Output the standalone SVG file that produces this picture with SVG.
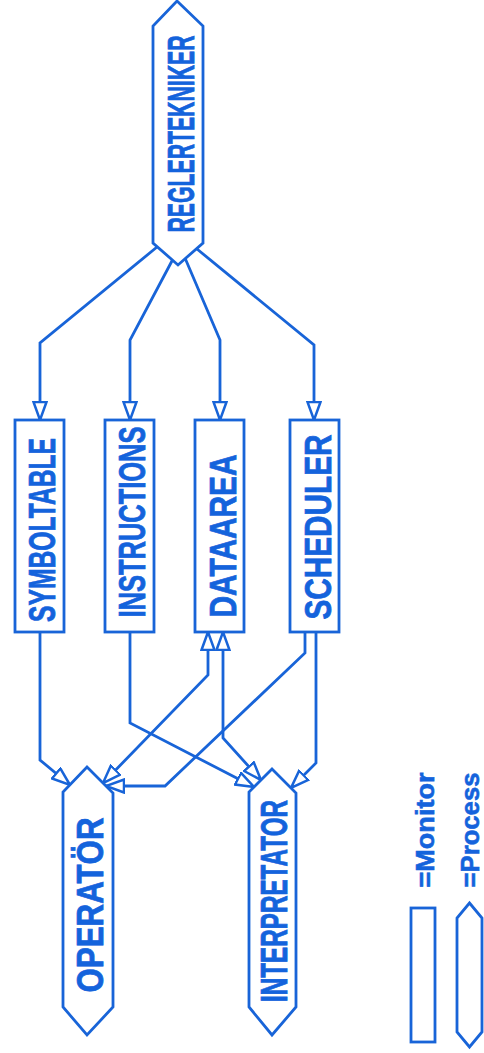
<svg xmlns="http://www.w3.org/2000/svg" width="484" height="1053" viewBox="0 0 484 1053">
<style>
.shape{fill:#fff;stroke:#1864d8;stroke-width:2.8;stroke-linejoin:miter}
.con{fill:none;stroke:#1864d8;stroke-width:2.8;stroke-linejoin:miter}
.lbl{font-family:"Liberation Sans",Arial,sans-serif;font-weight:bold;font-size:37px;fill:#1463dc;stroke:#1463dc;stroke-width:0.8;text-anchor:middle}
.leg{font-family:"Liberation Sans",Arial,sans-serif;font-weight:bold;font-size:26px;fill:#1463dc;stroke:#1463dc;stroke-width:0.6;text-anchor:middle}
</style>
<defs>
<marker id="arr" viewBox="0 -8 21 16" refX="19" refY="0" markerWidth="21" markerHeight="16" markerUnits="userSpaceOnUse" orient="auto-start-reverse">
<path d="M1,-6.5 L19,0 L1,6.5 Z" fill="#fff" stroke="#1864d8" stroke-width="2.5" stroke-linejoin="miter"/>
</marker>
</defs>
<rect width="484" height="1053" fill="#fff"/>
<g id="connectors">
<path class="con" d="M157,247 L40,343 L40,420" marker-end="url(#arr)"/>
<path class="con" d="M173,259 L130,340 L130,420" marker-end="url(#arr)"/>
<path class="con" d="M185,258 L220,340 L220,420" marker-end="url(#arr)"/>
<path class="con" d="M197,249 L314,345 L314,420" marker-end="url(#arr)"/>
<path class="con" d="M40,632 L40,760 L70,785" marker-end="url(#arr)"/>
<path class="con" d="M130,632 L130,723 L254,787" marker-end="url(#arr)"/>
<path class="con" d="M208,632 L208,675 L103,783" marker-start="url(#arr)" marker-end="url(#arr)"/>
<path class="con" d="M223,632 L223,738 L261,780" marker-start="url(#arr)" marker-end="url(#arr)"/>
<path class="con" d="M305,632 L305,653 L165,786 L106,786" marker-end="url(#arr)"/>
<path class="con" d="M316,632 L316,763 L291,788" marker-end="url(#arr)"/>
</g>
<g id="regler">
<polygon class="shape" points="177,1 203,26 203,243 178,265 153,243 153,26"/>
<text class="lbl" transform="translate(194,134) rotate(-90)" textLength="197" lengthAdjust="spacingAndGlyphs">REGLERTEKNIKER</text>
</g>
<g id="symboltable">
<rect class="shape" x="15" y="420" width="49" height="212"/>
<text class="lbl" transform="translate(55,530) rotate(-90)" textLength="184" lengthAdjust="spacingAndGlyphs">SYMBOLTABLE</text>
</g>
<g id="instructions">
<rect class="shape" x="105" y="420" width="49" height="212"/>
<text class="lbl" transform="translate(145,522) rotate(-90)" textLength="191" lengthAdjust="spacingAndGlyphs">INSTRUCTIONS</text>
</g>
<g id="dataarea">
<rect class="shape" x="195" y="420" width="49" height="212"/>
<text class="lbl" transform="translate(236,536) rotate(-90)" textLength="163" lengthAdjust="spacingAndGlyphs">DATAAREA</text>
</g>
<g id="scheduler">
<rect class="shape" x="290" y="420" width="49" height="212"/>
<text class="lbl" transform="translate(331,527) rotate(-90)" textLength="185" lengthAdjust="spacingAndGlyphs">SCHEDULER</text>
</g>
<g id="operator">
<polygon class="shape" points="87,767 113,793 113,1007 87,1035 63,1007 63,792"/>
<text class="lbl" transform="translate(103,905) rotate(-90)" textLength="175" lengthAdjust="spacingAndGlyphs">OPERATÖR</text>
</g>
<g id="interpretator">
<polygon class="shape" points="272,769 296,793 296,1007 272,1035 249,1007 249,792"/>
<text class="lbl" transform="translate(287,901) rotate(-90)" textLength="202" lengthAdjust="spacingAndGlyphs">INTERPRETATOR</text>
</g>
<g id="legend">
<rect class="shape" x="411" y="908" width="24" height="134"/>
<text class="leg" transform="translate(434,830) rotate(-90)" textLength="115" lengthAdjust="spacingAndGlyphs">=Monitor</text>
<polygon class="shape" points="469.5,903 482,918 482,1032 469.5,1047 457,1032 457,918"/>
<text class="leg" transform="translate(479,830) rotate(-90)" textLength="115" lengthAdjust="spacingAndGlyphs">=Process</text>
</g>
</svg>
